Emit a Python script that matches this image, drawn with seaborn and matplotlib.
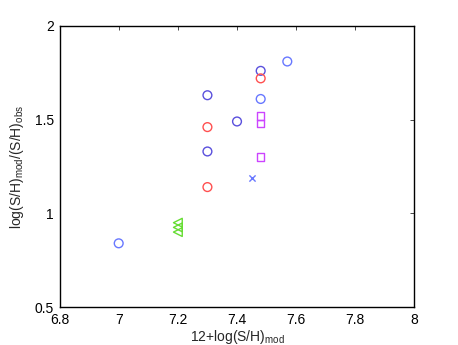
import pandas as pd
import matplotlib
matplotlib.use("Agg")
import matplotlib.pyplot as plt
import seaborn as sns

# values
dark_x = [7.48, 7.30, 7.40, 7.30]
dark_y = [1.76, 1.63, 1.49, 1.33]
red_x = [7.48, 7.30, 7.30]
red_y = [1.72, 1.46, 1.14]
blue_x = [7.57, 7.48, 7.00]
blue_y = [1.81, 1.61, 0.84]
sq_x = [7.48, 7.48, 7.48]
sq_y = [1.52, 1.48, 1.30]
cross_x = [7.45]
cross_y = [1.19]
tri_x = [7.20, 7.20, 7.20]
tri_y = [0.95, 0.925, 0.90]

x_ticks = [6.8, 7, 7.2, 7.4, 7.6, 7.8, 8]
y_ticks = [0.5, 1, 1.5, 2]

sns.set_style("white")
plt.rcParams["font.family"] = ["Liberation Sans", "DejaVu Sans"]
plt.rcParams["mathtext.default"] = "regular"

fig = plt.figure(figsize=(4.58, 3.45), dpi=100)
ax = fig.add_axes([0.13, 0.11, 0.775, 0.815])

groups = [
    (dark_x, dark_y, "#5a50dd", "o"),
    (red_x, red_y, "#ff5050", "o"),
    (blue_x, blue_y, "#6878ff", "o"),
    (sq_x, sq_y, "#cc44ff", "s"),
    (cross_x, cross_y, "#6878ff", "x"),
    (tri_x, tri_y, "#66dd33", "<"),
]
for gx, gy, col, mk in groups:
    d = pd.DataFrame({"x": gx, "y": gy})
    if mk == "x":
        sns.scatterplot(data=d, x="x", y="y", ax=ax, marker=mk, color=col,
                        s=20, linewidth=1)
    else:
        sz = 28 if mk == "s" else 40
        sns.scatterplot(data=d, x="x", y="y", ax=ax, marker=mk, s=sz,
                        facecolor="none", edgecolor=col, linewidth=1)

ax.set_xlim(6.8, 8)
ax.set_ylim(0.5, 2)
ax.set_xticks(x_ticks)
ax.set_xticklabels(["6.8", "7", "7.2", "7.4", "7.6", "7.8", "8"])
ax.set_yticks(y_ticks)
ax.set_yticklabels(["0.5", "1", "1.5", "2"])
ax.tick_params(direction="in", length=3, width=0.5, top=True, right=True,
               labelsize=10, colors="black", pad=4)
for sp in ax.spines.values():
    sp.set_visible(True)
    sp.set_color("black")
    sp.set_linewidth(1)
ax.set_xlabel("12+log(S/H)$_{mod}$", fontsize=10, labelpad=1)
ax.set_ylabel("log(S/H)$_{mod}$/(S/H)$_{obs}$", fontsize=10, labelpad=6)

fig.savefig("out.png", dpi=100)
